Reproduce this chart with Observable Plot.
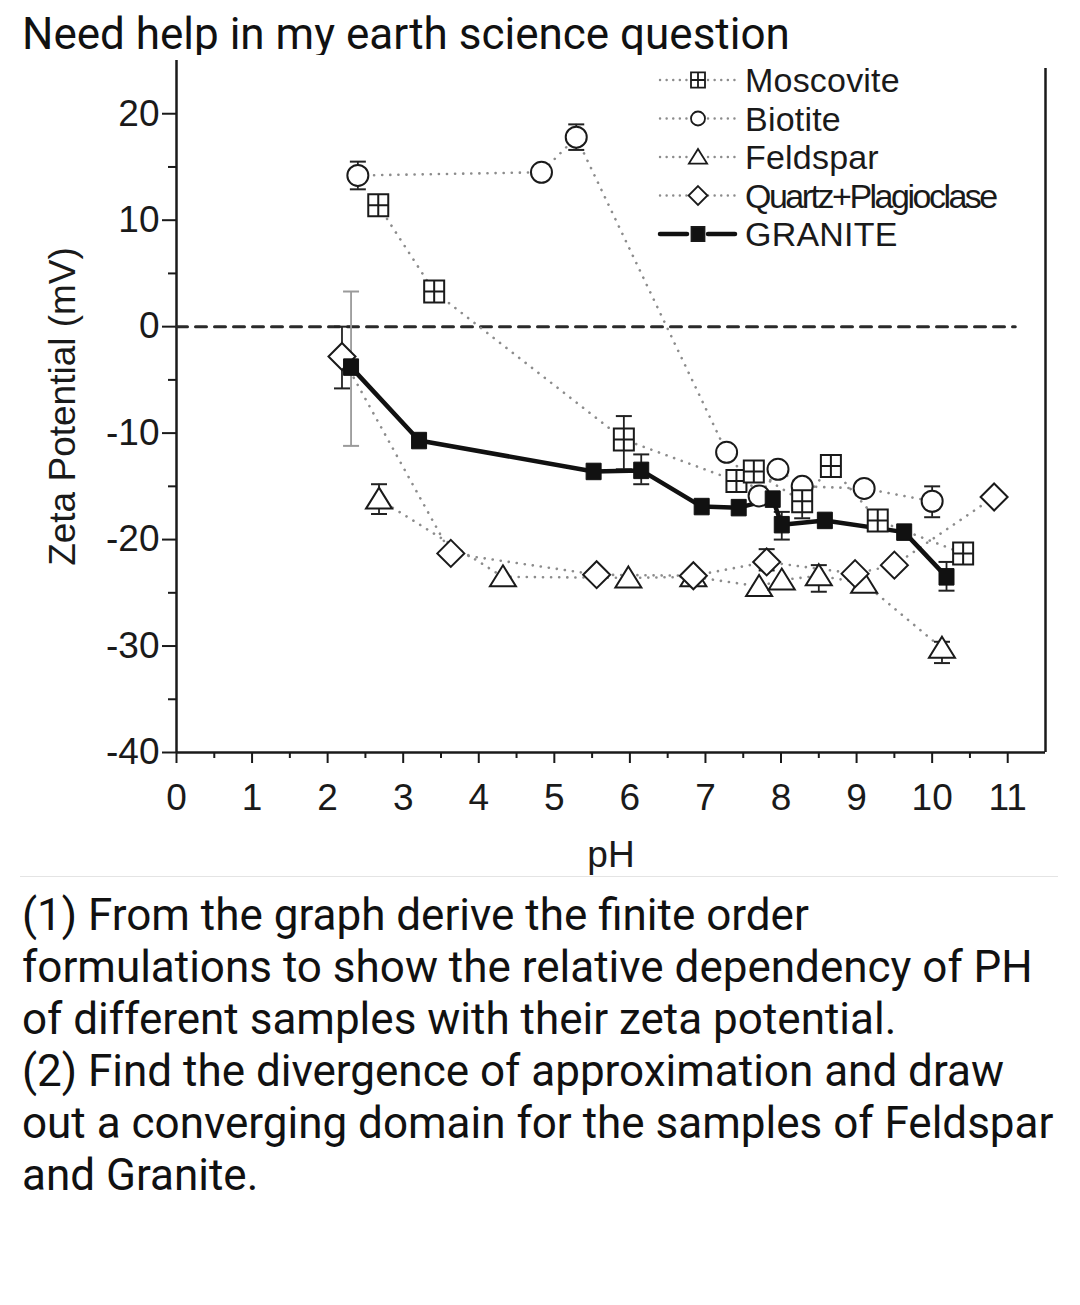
<!DOCTYPE html>
<html><head><meta charset="utf-8">
<script src="https://cdn.jsdelivr.net/npm/d3@7"></script>
<script src="https://cdn.jsdelivr.net/npm/@observablehq/plot@0.6"></script>
<style>
body{margin:0;background:#fff;width:1080px;height:1305px;position:relative;overflow:hidden;font-family:Roboto,"Noto Sans",sans-serif;color:#111}
#title{position:absolute;left:22px;top:8px;font-size:44px;line-height:52px;white-space:nowrap}
#chart{position:absolute;left:0;top:55px}
#legend{position:absolute;left:650px;top:58px}
#sep{position:absolute;left:20px;top:876px;width:1038px;height:1px;background:#e4e4e4}
#question{position:absolute;left:22px;top:889px;font-size:44px;line-height:52px;white-space:nowrap}
</style></head>
<body>
<div id="title">Need help in my earth science question</div>
<div id="chart"></div>
<svg id="legend" width="400" height="200"></svg>
<div id="sep"></div>
<div id="question">(1) From the graph derive the finite order<br>formulations to show the relative dependency of PH<br>of different samples with their zeta potential.<br>(2) Find the divergence of approximation and draw<br>out a converging domain for the samples of Feldspar<br>and Granite.</div>
<script>
// ---- data ----
const seriesNames = ["Moscovite", "Biotite", "Feldspar", "Quartz+Plagioclase", "GRANITE"];

const moscovitePH   = [2.67, 3.41, 5.92, 7.41, 7.64, 8.28, 8.66, 9.28, 10.41];
const moscoviteZeta = [11.4, 3.3, -10.6, -14.5, -13.6, -16.4, -13.1, -18.2, -21.3];

const biotitePH   = [2.40, 4.83, 5.29, 7.28, 7.71, 7.96, 8.28, 9.10, 10.00];
const biotiteZeta = [14.2, 14.5, 17.8, -11.8, -15.9, -13.4, -15.0, -15.2, -16.4];

const feldsparPH   = [2.68, 4.32, 5.98, 6.84, 7.71, 8.01, 8.50, 9.10, 10.13];
const feldsparZeta = [-16.2, -23.5, -23.6, -23.5, -24.4, -23.8, -23.4, -24.1, -30.2];

const quartzPH   = [2.19, 3.63, 5.56, 6.84, 7.81, 8.98, 9.50, 10.82];
const quartzZeta = [-2.8, -21.3, -23.3, -23.4, -22.1, -23.2, -22.4, -16.0];

const granitePH   = [2.31, 3.21, 5.52, 6.15, 6.95, 7.44, 7.89, 8.01, 8.58, 9.63, 10.19];
const graniteZeta = [-3.8, -10.7, -13.6, -13.5, -16.9, -17.0, -16.2, -18.6, -18.2, -19.3, -23.5];

// error bars: pH, low, high
const errPH   = [2.31, 2.19, 2.40, 5.29, 5.92, 6.15, 8.01, 10.19, 8.28, 10.00, 8.50, 2.68, 10.13, 7.81];
const errLow  = [-11.2, -5.8, 12.9, 16.6, -13.4, -14.8, -20.0, -24.8, -18.0, -17.9, -24.9, -17.6, -31.6, -22.9];
const errHigh = [3.3, 0.0, 15.5, 19.0, -8.4, -12.0, -17.4, -22.1, -16.0, -15.0, -22.4, -14.8, -29.6, -20.9];

const xTicks = [0, 1, 2, 3, 4, 5, 6, 7, 8, 9, 10, 11];
const xMinorTicks = [0.5, 1.5, 2.5, 3.5, 4.5, 5.5, 6.5, 7.5, 8.5, 9.5, 10.5];
const yTicks = [-40, -30, -20, -10, 0, 10, 20];
const yMinorTicks = [-35, -25, -15, -5, 5, 15];
const xDomain = [0, 11.5];
const yDomain = [-40, 25];
const zeroLineEnd = 11.1;

// ---- build tables ----
const rows = (ph, z) => ph.map((x, i) => ({x, y: z[i]}));
const mosc = rows(moscovitePH, moscoviteZeta);
const biot = rows(biotitePH, biotiteZeta);
const feld = rows(feldsparPH, feldsparZeta);
const quar = rows(quartzPH, quartzZeta);
const gran = rows(granitePH, graniteZeta);
const errs = errPH.map((x, i) => ({x, lo: errLow[i], hi: errHigh[i]}));
const zeroLine = [{x: xDomain[0], y: 0}, {x: zeroLineEnd, y: 0}];

// ---- custom symbols (size = pi r^2) ----
const R = s => Math.sqrt(s / Math.PI);
const symGrid = {draw(c, s){ const r = R(s), v = r*1.1; c.moveTo(-r,-v); c.lineTo(r,-v); c.lineTo(r,v); c.lineTo(-r,v); c.closePath();
  c.moveTo(0,-v); c.lineTo(0,v); c.moveTo(-r,0); c.lineTo(r,0);} };
const symCircle = {draw(c, s){ const r = R(s); c.moveTo(r,0); c.arc(0,0,r,0,2*Math.PI);} };
const symTri = {draw(c, s){ const r = R(s); c.moveTo(0,-1.15*r); c.lineTo(1.3*r,0.95*r); c.lineTo(-1.3*r,0.95*r); c.closePath();} };
const symDiamond = {draw(c, s){ const r = R(s)*1.35; c.moveTo(0,-r); c.lineTo(r,0); c.lineTo(0,r); c.lineTo(-r,0); c.closePath();} };
const symSquare = {draw(c, s){ const r = R(s); c.moveTo(-r,-r*1.1); c.lineTo(r,-r*1.1); c.lineTo(r,r*1.1); c.lineTo(-r,r*1.1); c.closePath();} };
const symCap = {draw(c, s){ const r = R(s); c.moveTo(-r,0); c.lineTo(r,0);} };

const dotted = {stroke: "#8c8c8c", strokeWidth: 2.6, strokeDasharray: "0.1,8", strokeLinecap: "round"};
const openMark = {fill: "white", stroke: "#1a1a1a", strokeWidth: 2};
const errStroke = d => (d.hi - d.lo > 10 ? "#9a9a9a" : "#222");
const noText = () => "";

const chart = Plot.plot({
  width: 1080, height: 820,
  marginLeft: 176, marginRight: 35, marginTop: 5, marginBottom: 123,
  x: {domain: xDomain},
  y: {domain: yDomain},
  style: {fontFamily: "'Liberation Sans', Arial, sans-serif", fontSize: "37px", color: "#1a1a1a", background: "white"},
  marks: [
    Plot.axisY({ticks: yMinorTicks, tickSize: 8, tickFormat: noText, label: null, strokeWidth: 2}),
    Plot.axisY({ticks: yTicks, tickSize: 14, tickPadding: 3, tickFormat: d => String(d), strokeWidth: 2, label: "Zeta Potential (mV)", labelAnchor: "center", labelArrow: "none", labelOffset: 128}),
    Plot.axisX({ticks: xMinorTicks, tickSize: 6, tickFormat: noText, label: null, strokeWidth: 2}),
    Plot.axisX({ticks: xTicks, tickSize: 11, tickPadding: 20, tickFormat: d => String(d), strokeWidth: 2, label: "pH", labelAnchor: "center", labelArrow: "none", labelOffset: 114}),
    Plot.ruleX([xDomain[0]], {stroke: "#1a1a1a", strokeWidth: 2.5}),
    Plot.ruleX([xDomain[1]], {y1: yDomain[0], y2: yDomain[1], stroke: "#1a1a1a", strokeWidth: 2.5, insetBottom: -8}),
    Plot.ruleY([yDomain[0]], {stroke: "#1a1a1a", strokeWidth: 2.5}),
    Plot.line(zeroLine, {x: "x", y: "y", stroke: "#2a2a2a", strokeWidth: 3, strokeDasharray: "11,8"}),
    Plot.line(mosc, {x: "x", y: "y", ...dotted}),
    Plot.line(biot, {x: "x", y: "y", ...dotted}),
    Plot.line(feld, {x: "x", y: "y", ...dotted}),
    Plot.line(quar, {x: "x", y: "y", ...dotted}),
    Plot.ruleX(errs, {x: "x", y1: "lo", y2: "hi", stroke: errStroke, strokeWidth: 1.8}),
    Plot.dot(errs, {x: "x", y: "lo", symbol: symCap, r: 8, stroke: errStroke, strokeWidth: 2}),
    Plot.dot(errs, {x: "x", y: "hi", symbol: symCap, r: 8, stroke: errStroke, strokeWidth: 2}),
    Plot.line(gran, {x: "x", y: "y", stroke: "#111", strokeWidth: 4.5}),
    Plot.dot(feld, {x: "x", y: "y", symbol: symTri, r: 10, ...openMark}),
    Plot.dot(quar, {x: "x", y: "y", symbol: symDiamond, r: 10, ...openMark}),
    Plot.dot(biot, {x: "x", y: "y", symbol: symCircle, r: 10.5, ...openMark}),
    Plot.dot(mosc, {x: "x", y: "y", symbol: symGrid, r: 10, ...openMark}),
    Plot.dot(gran, {x: "x", y: "y", symbol: symSquare, r: 7.5, fill: "#111", stroke: "#111", strokeWidth: 1})
  ]
});
document.getElementById("chart").appendChild(chart);

// ---- legend (inside plot, top right) ----
const legendSymbols = [symGrid, symCircle, symTri, symDiamond, symSquare];
const lg = d3.select("#legend");
seriesNames.forEach((name, i) => {
  const g = lg.append("g").attr("transform", `translate(0,${22 + i * 38.5})`);
  const solid = i === 4;
  [[10, 37], [58, 85]].forEach(([a, b]) => {
    g.append("line").attr("x1", a).attr("x2", b).attr("y1", 0).attr("y2", 0)
      .attr("stroke", solid ? "#111" : "#8c8c8c")
      .attr("stroke-width", solid ? 4.5 : 2.4)
      .attr("stroke-linecap", "round")
      .attr("stroke-dasharray", solid ? null : "0.1,6.5");
  });
  g.append("path").attr("transform", "translate(48,0)")
    .attr("d", d3.symbol(legendSymbols[i], Math.PI * (solid ? 6.5 : 7) ** 2)())
    .attr("fill", solid ? "#111" : "white").attr("stroke", "#1a1a1a").attr("stroke-width", 1.8);
  g.append("text").attr("x", 95).attr("y", 0).attr("dy", "0.36em")
    .attr("font-family", "'Liberation Sans', Arial, sans-serif").attr("font-size", 34)
    .attr("fill", "#1a1a1a").attr("letter-spacing", name.length > 12 ? -2.5 : 0.2)
    .text(name);
});
</script>
</body></html>
